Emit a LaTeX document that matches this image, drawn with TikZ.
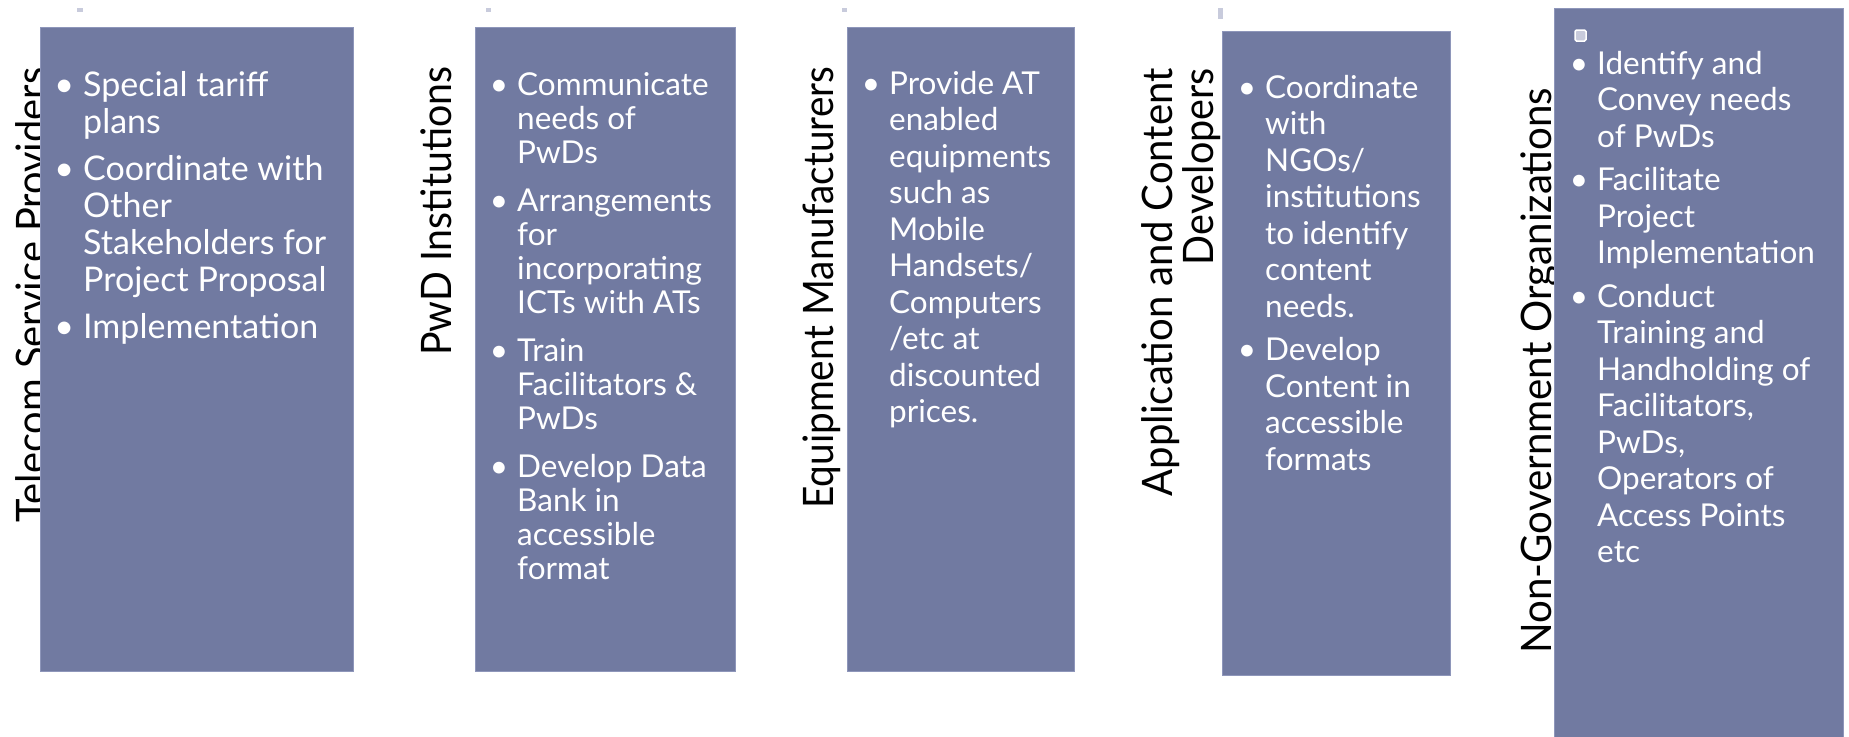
\documentclass[tikz,border=0pt]{standalone}
\usepackage{fontspec}
\setmainfont{Lato}
\usepackage{graphicx}
\definecolor{boxfill}{RGB}{113,122,161}
\definecolor{boxline}{RGB}{142,150,186}
\definecolor{tickgrey}{RGB}{200,203,220}
\newcommand\bpar[1]{\makebox[0pt][r]{\textbullet\hspace{9pt}}#1}
\tikzset{
  panel/.style={fill=boxfill, draw=boxline, line width=0.8pt},
  title/.style={rotate=90, inner sep=0pt, text=black, font=\fontsize{42}{48}\selectfont},
  body/.style={inner sep=0pt, text=white, font=\fontsize{31.5}{36.5}\selectfont, anchor=base west},
  tick/.style={fill=tickgrey, draw=none},
}
\begin{document}
\begin{tikzpicture}[x=1pt,y=1pt]
\useasboundingbox (0,0) rectangle (1849,-736);
% titles (drawn first; box 1 covers part of its title)
\node[title, anchor=base west] (t1) at (46,-523) {\resizebox{455pt}{\height}{Telecom Service Providers}};
\node[title, anchor=base west] (t2) at (451,-356) {\resizebox{289pt}{\height}{PwD Institutions}};
\node[title, anchor=base west] (t3) at (833,-509) {\resizebox{442pt}{\height}{Equipment Manufacturers}};
\node[title, anchor=base east] (t4a) at (1172,-68) {\resizebox{428pt}{\height}{Application and Content}};
\node[title, anchor=base east] (t4b) at (1213,-68) {\resizebox{197pt}{\height}{Developers}};
\node[title, anchor=base west] (t5) at (1551,-654) {\resizebox{566pt}{\height}{Non-Government Organizations}};
% small marks
\fill[tick] (77,-8) rectangle (83,-12);
\fill[tick] (486,-8) rectangle (491,-12);
\fill[tick] (842,-8) rectangle (847,-12);
\fill[tick] (1218,-8) rectangle (1223,-19);
% panels
\draw[panel] (40,-27) rectangle (353,-671);
\draw[panel] (475,-27) rectangle (735,-671);
\draw[panel] (847,-27) rectangle (1074,-671);
\draw[panel] (1222,-31) rectangle (1450,-675);
\draw[panel] (1554,-8) rectangle (1843,-740);
\node[draw=white, fill=tickgrey, line width=1.5pt, rounded corners=1.5pt, minimum size=11pt, inner sep=0pt] (sq) at (1580.5,-35.5) {};
% body texts
\node[body, font=\fontsize{34}{37}\selectfont] (p1) at (83,-96) {\begin{tabular}[t]{@{}l@{}}
\bpar{Special tariff}\\
plans\\[10pt]
\bpar{Coordinate with}\\
Other\\
Stakeholders for\\
Project Proposal\\[10pt]
\bpar{Implementation}
\end{tabular}};
\node[body, font=\fontsize{31.5}{34}\selectfont] (p2) at (517,-95) {\begin{tabular}[t]{@{}l@{}}
\bpar{Communicate}\\
needs of\\
PwDs\\[14pt]
\bpar{Arrangements}\\
for\\
incorporating\\
ICTs with ATs\\[14pt]
\bpar{Train}\\
Facilitators \&\\
PwDs\\[14pt]
\bpar{Develop Data}\\
Bank in\\
accessible\\
format
\end{tabular}};
\node[body] (p3) at (889,-94) {\begin{tabular}[t]{@{}l@{}}
\bpar{Provide AT}\\
enabled\\
equipments\\
such as\\
Mobile\\
Handsets/\\
Computers\\
/etc at\\
discounted\\
prices.
\end{tabular}};
\node[body] (p4) at (1265,-98) {\begin{tabular}[t]{@{}l@{}}
\bpar{Coordinate}\\
with\\
NGOs/\\
institutions\\
to identify\\
content\\
needs.\\[7pt]
\bpar{Develop}\\
Content in\\
accessible\\
formats
\end{tabular}};
\node[body] (p5) at (1597,-74) {\begin{tabular}[t]{@{}l@{}}
\bpar{Identify and}\\
Convey needs\\
of PwDs\\[7pt]
\bpar{Facilitate}\\
Project\\
Implementation\\[7pt]
\bpar{Conduct}\\
Training and\\
Handholding of\\
Facilitators,\\
PwDs,\\
Operators of\\
Access Points\\
etc
\end{tabular}};
\end{tikzpicture}
\end{document}
